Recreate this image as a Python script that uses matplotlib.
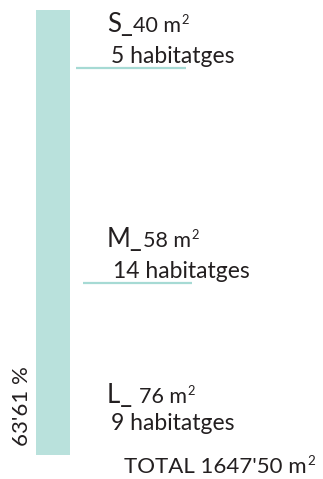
import matplotlib
matplotlib.use("Agg")
import matplotlib.pyplot as plt

# Housing mix summary
categories = ["S", "M", "L"]
areas_m2 = [40, 58, 76]
units = [5, 14, 9]
total_area = "1647'50"
share_label = "63'61 %"
bar_share = [100]

W, H = 323, 479
fig = plt.figure(figsize=(W / 100, H / 100), dpi=100)
ax = fig.add_axes([0, 0, 1, 1])
ax.set_xlim(0, W)
ax.set_ylim(H, 0)
ax.axis("off")

teal = "#b9e1dc"
line_teal = "#a6dad4"
ink = "#231f20"
font = "Lato"

# vertical bar (scaled so 100 % spans y 10..455)
scale = 445 / 100
for v in bar_share:
    ax.bar(53, v * scale, bottom=10, width=34, color=teal, align="center")

ax.text(22, 406, share_label, rotation=90, ha="center", va="center",
        fontsize=16, color=ink, family=font, rotation_mode="anchor")


def run(x, base, s, size, raise_px=0):
    """Draw a text run at pixel (x, baseline) and return its right edge."""
    t = ax.annotate(s, xy=(x, H - base + raise_px), xycoords="figure pixels",
                    fontsize=size, color=ink, family=font,
                    va="baseline", ha="left")
    fig.canvas.draw()
    return t.get_window_extent().x1


def area_with_unit(x, base, text, size):
    x = run(x, base, text + " m", size)
    run(x + 0.5, base, "2", size * 0.6, raise_px=8)


label_x = [107, 107, 107]
label_base = [32, 247, 403]
units_x = [111, 113, 111]
units_base = [63, 278, 430]
rules = [(68, 76, 186), (283, 83, 192), None]

for i, cat in enumerate(categories):
    sep = "_" if cat != "L" else "_ "
    x = run(label_x[i], label_base[i], cat + sep, 18.5)
    area_with_unit(x, label_base[i], f"{areas_m2[i]}", 15.5)
    run(units_x[i], units_base[i], f"{units[i]} habitatges", 16.5)
    if rules[i] is not None:
        y, x0, x1 = rules[i]
        ax.plot([x0, x1], [y, y], color=line_teal, lw=1.6, solid_capstyle="butt")

area_with_unit(124, 473, f"TOTAL {total_area}", 16)

fig.savefig("out.png", dpi=100)
